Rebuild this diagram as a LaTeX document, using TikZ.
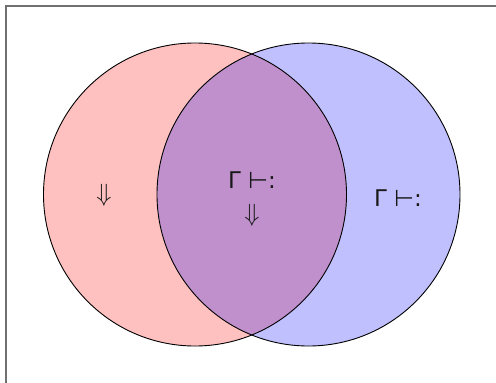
\documentclass[tikz,border=0pt]{standalone}
\usepackage{fontspec}
\setmainfont{DejaVu Sans}
\definecolor{lpink}{HTML}{FFC0C0}
\definecolor{lblue}{HTML}{C0C0FF}
\definecolor{lmix}{HTML}{C090CC}
\definecolor{framegray}{HTML}{707070}
\tikzset{
  setcircle/.style={draw=black, line width=0.9pt},
  lbl/.style={font=\fontsize{23}{25}\selectfont, text=black!90, inner sep=0pt, align=center},
  arr/.style={font=\fontsize{26}{28}\selectfont, text=black!90, inner sep=0pt},
}
\begin{document}
\begin{tikzpicture}[x=1pt,y=-1pt]
\useasboundingbox (0,0) rectangle (496,383);
\fill[white] (0,0) rectangle (496,383);
\draw[framegray, line width=1.4pt] (6,383) -- (6,6) -- (496,6);
\coordinate (cl) at (195,194.5);
\coordinate (cr) at (308.5,194.5);
\fill[lpink] (cl) circle[radius=151.5];
\fill[lblue] (cr) circle[radius=151.5];
\begin{scope}
  \clip (cl) circle[radius=151.5];
  \fill[lmix] (cr) circle[radius=151.5];
\end{scope}
\draw[setcircle] (cl) circle[radius=151.5];
\draw[setcircle] (cr) circle[radius=151.5];
\node[arr] (a) at (104,195) {$\Downarrow$};
\node[lbl] (b) at (252,180) {Γ ⊢:};
\node[arr] (c) at (252,215) {$\Downarrow$};
\node[lbl] (d) at (398,198) {Γ ⊢:};
\end{tikzpicture}
\end{document}
